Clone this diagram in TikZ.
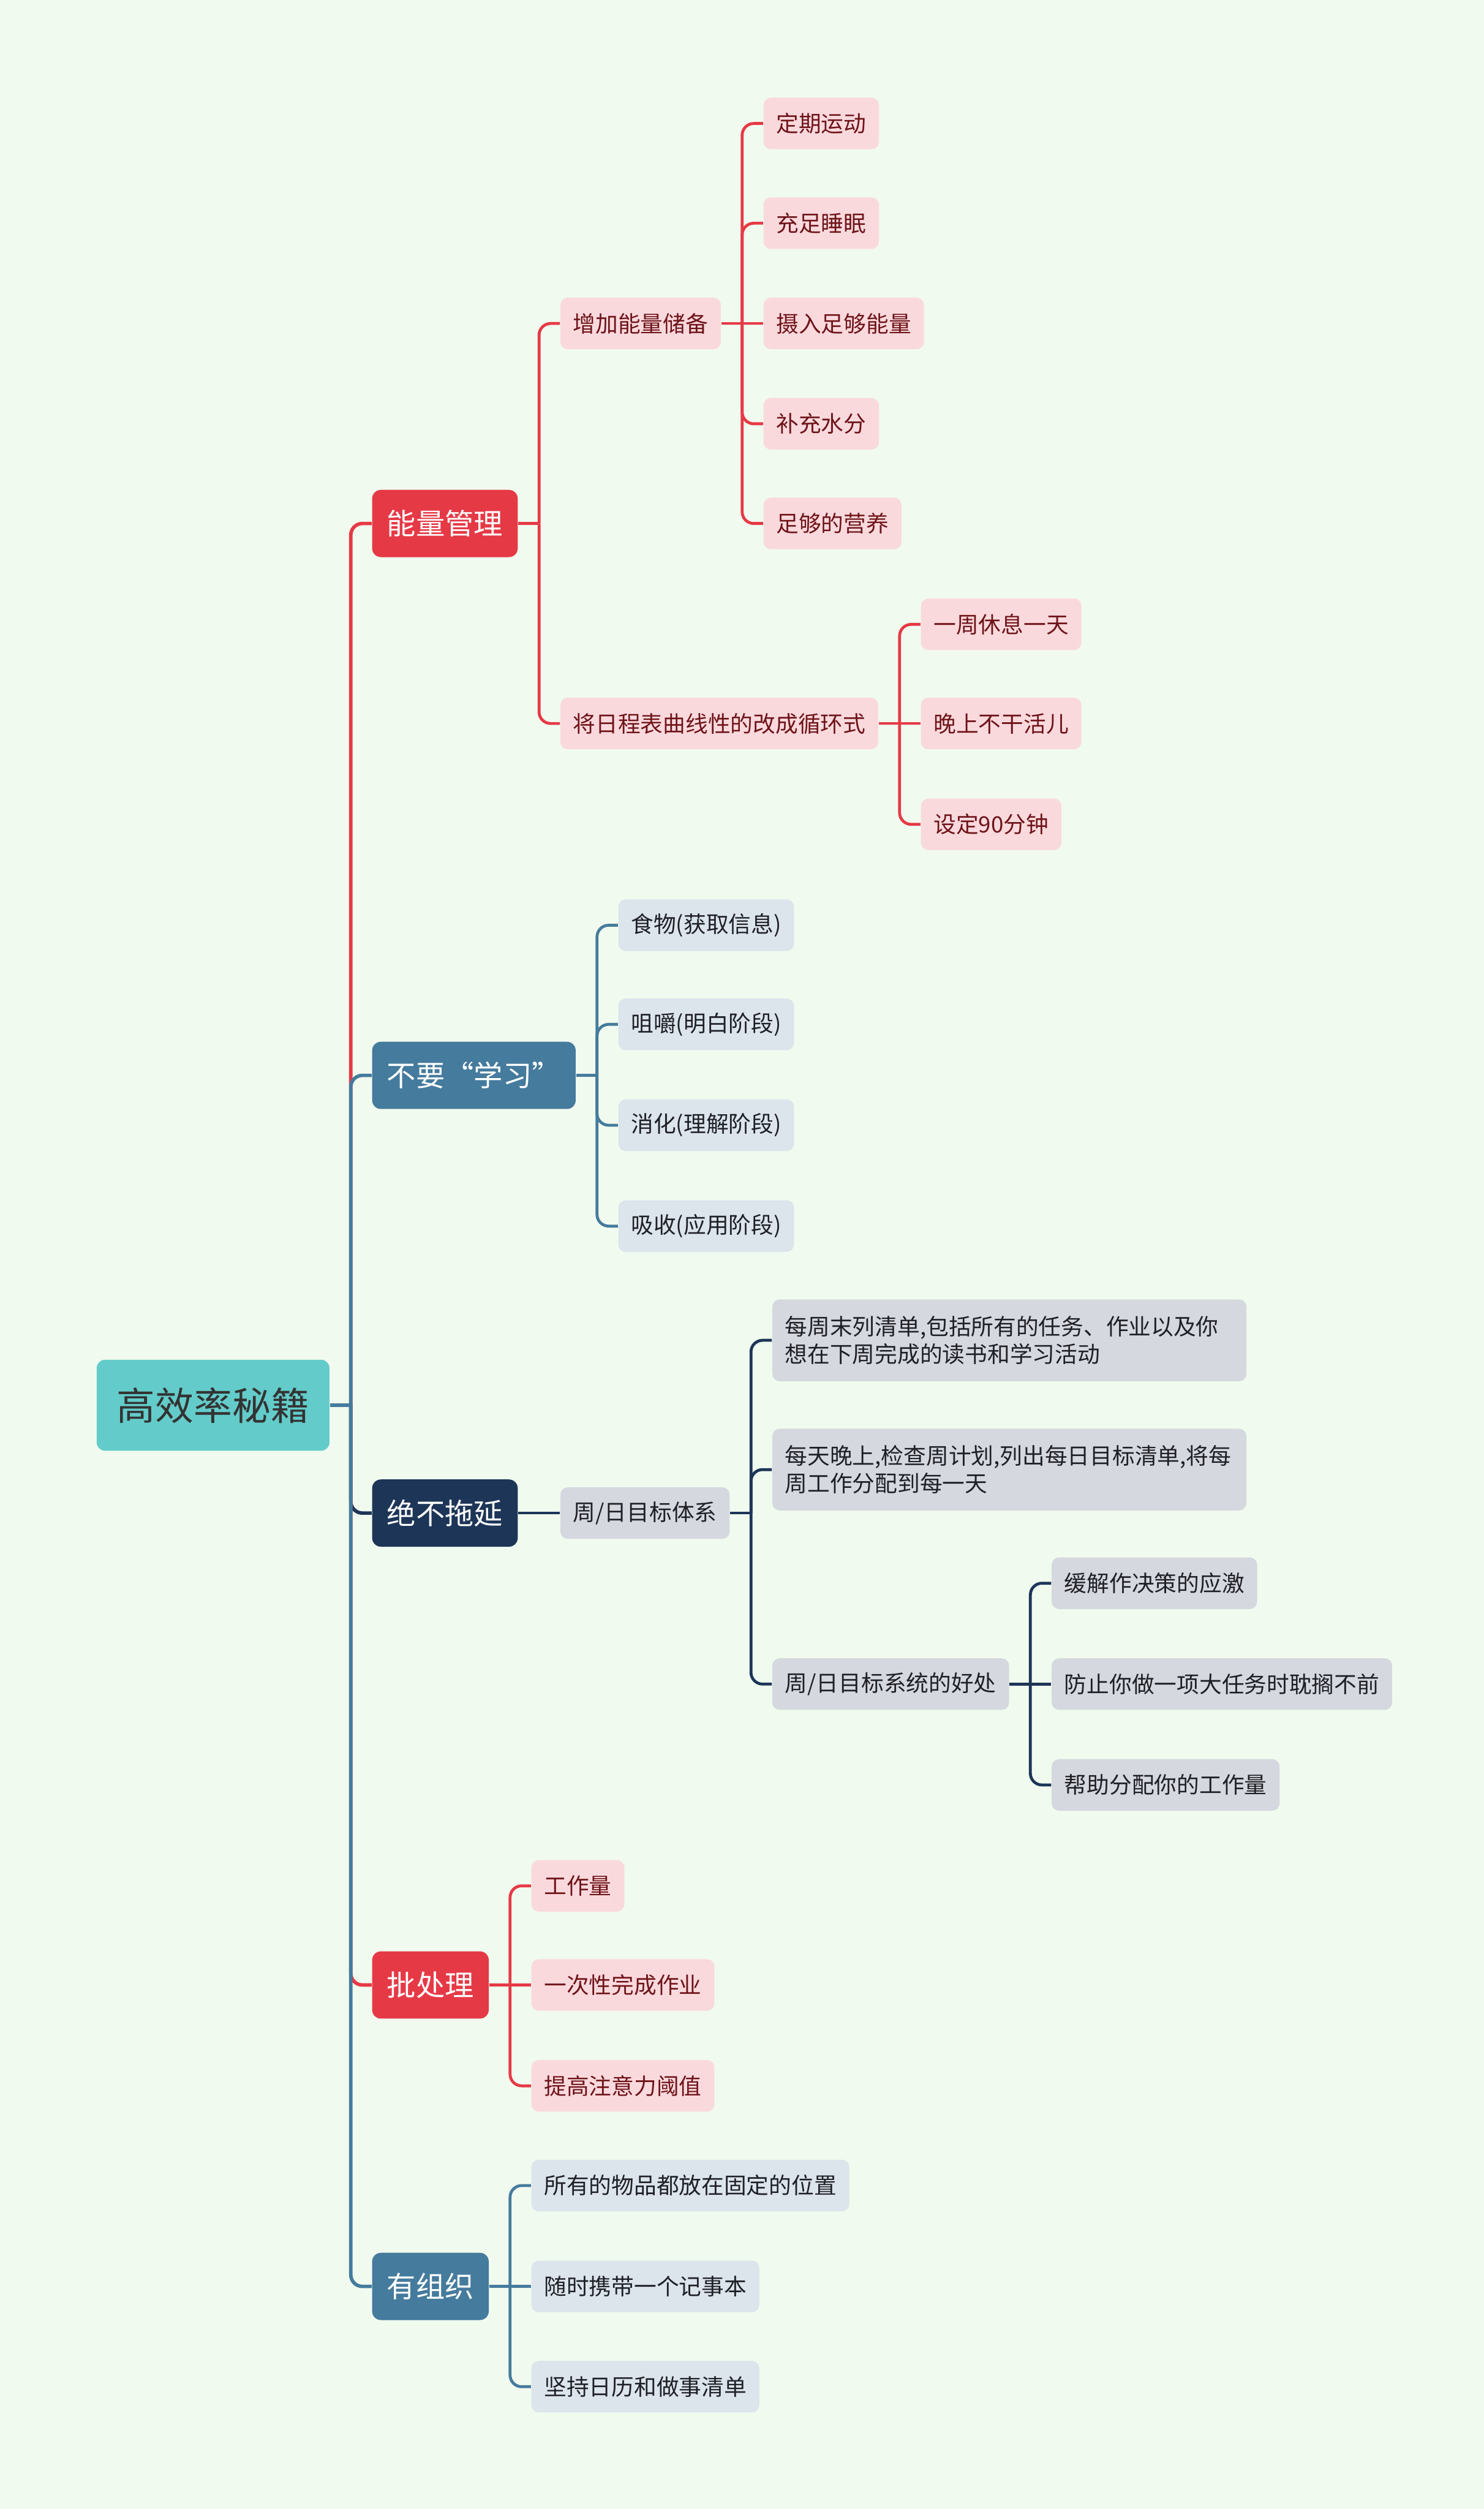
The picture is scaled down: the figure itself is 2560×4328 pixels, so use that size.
\documentclass[tikz,border=0pt]{standalone}
\usepackage{fontspec}
\setmainfont{Noto Sans CJK SC}
\usepackage{tikz}
\usetikzlibrary{positioning}
\definecolor{bgMint}{RGB}{240,250,238}
\definecolor{redA}{RGB}{230,57,70}
\definecolor{steelB}{RGB}{69,123,157}
\definecolor{navyC}{RGB}{29,53,87}
\definecolor{tealR}{RGB}{99,204,202}
\definecolor{pinkL}{RGB}{250,217,221}
\definecolor{blueL}{RGB}{220,228,236}
\definecolor{greyL}{RGB}{213,216,222}
\definecolor{maroonT}{RGB}{110,20,25}
\definecolor{inkT}{RGB}{30,32,38}

\tikzset{
  leaf/.style={rounded corners=3.2pt, inner xsep=5.5pt, inner ysep=0pt,
    minimum height=22.25pt, font=\fontsize{9.7}{12}\selectfont},
  pinkleaf/.style={leaf, fill=pinkL, text=maroonT},
  blueleaf/.style={leaf, fill=blueL, text=inkT},
  greyleaf/.style={leaf, fill=greyL, text=inkT},
  twoline/.style={text width=193.5pt, align=left, minimum height=35.25pt},
  mainbox/.style={rounded corners=3.8pt, inner xsep=6.4pt, inner ysep=0pt,
    minimum height=29pt, text=white, font=\fontsize{12.5}{15}\selectfont},
  rootbox/.style={rounded corners=3.6pt, inner xsep=8.7pt, inner ysep=0pt,
    minimum height=39.25pt, fill=tealR, text=black!80,
    font=\fontsize{16.6}{20}\selectfont},
  sub/.style={anchor=west, xshift=18pt},
  redline/.style={redA, line width=1.25pt, rounded corners=5pt},
  steelline/.style={steelB, line width=1.25pt, rounded corners=5pt},
  navyline/.style={navyC, line width=1.25pt, rounded corners=5pt},
}

\begin{document}
\begin{tikzpicture}[x=0.25pt, y=-0.25pt]
  \fill[bgMint] (0,0) rectangle (2560,4328);

  % root and main topics
  \node[rootbox, anchor=west] (r) at (166,2424) {高效率秘籍};
  \node[mainbox, fill=redA, sub] (e) at (r.east |- 0,903) {能量管理};
  \node[mainbox, fill=steelB, sub] (l) at (r.east |- 0,1855) {不要{\addfontfeature{RawFeature=+fwid}“学习”}};
  \node[mainbox, fill=navyC, sub] (p) at (r.east |- 0,2610) {绝不拖延};
  \node[mainbox, fill=redA, sub] (b) at (r.east |- 0,3424) {批处理};
  \node[mainbox, fill=steelB, sub] (o) at (r.east |- 0,3944) {有组织};

  % energy
  \node[pinkleaf, sub] (e1) at (e.east |- 0,558) {增加能量储备};
  \node[pinkleaf, sub] (e2) at (e.east |- 0,1248) {将日程表曲线性的改成循环式};
  \node[pinkleaf, sub] (e11) at (e1.east |- 0,213) {定期运动};
  \node[pinkleaf, sub] (e12) at (e1.east |- 0,385) {充足睡眠};
  \node[pinkleaf, sub] (e13) at (e1.east |- 0,558) {摄入足够能量};
  \node[pinkleaf, sub] (e14) at (e1.east |- 0,731) {补充水分};
  \node[pinkleaf, sub] (e15) at (e1.east |- 0,903) {足够的营养};
  \node[pinkleaf, sub] (e21) at (e2.east |- 0,1077) {一周休息一天};
  \node[pinkleaf, sub] (e22) at (e2.east |- 0,1248) {晚上不干活儿};
  \node[pinkleaf, sub] (e23) at (e2.east |- 0,1422) {设定90分钟};

  % learning
  \node[blueleaf, sub] (l1) at (l.east |- 0,1596) {食物(获取信息)};
  \node[blueleaf, sub] (l2) at (l.east |- 0,1767) {咀嚼(明白阶段)};
  \node[blueleaf, sub] (l3) at (l.east |- 0,1941) {消化(理解阶段)};
  \node[blueleaf, sub] (l4) at (l.east |- 0,2115) {吸收(应用阶段)};

  % no delay
  \node[greyleaf, sub] (p1) at (p.east |- 0,2610) {周/日目标体系};
  \node[greyleaf, twoline, sub] (p11) at (p1.east |- 0,2312)
    {每周末列清单,包括所有的任务、作业以及你\\想在下周完成的读书和学习活动};
  \node[greyleaf, twoline, sub] (p12) at (p1.east |- 0,2535)
    {每天晚上,检查周计划,列出每日目标清单,将每\\周工作分配到每一天};
  \node[greyleaf, sub] (p13) at (p1.east |- 0,2905) {周/日目标系统的好处};
  \node[greyleaf, sub] (p131) at (p13.east |- 0,2731) {缓解作决策的应激};
  \node[greyleaf, sub] (p132) at (p13.east |- 0,2905) {防止你做一项大任务时耽搁不前};
  \node[greyleaf, sub] (p133) at (p13.east |- 0,3079) {帮助分配你的工作量};

  % batching
  \node[pinkleaf, sub] (b1) at (b.east |- 0,3253) {工作量};
  \node[pinkleaf, sub] (b2) at (b.east |- 0,3424) {一次性完成作业};
  \node[pinkleaf, sub] (b3) at (b.east |- 0,3598) {提高注意力阈值};

  % organised
  \node[blueleaf, sub] (o1) at (o.east |- 0,3770) {所有的物品都放在固定的位置};
  \node[blueleaf, sub] (o2) at (o.east |- 0,3944) {随时携带一个记事本};
  \node[blueleaf, sub] (o3) at (o.east |- 0,4117) {坚持日历和做事清单};

  % branch points
  \coordinate (rt) at ([xshift=9pt]r.east);
  \coordinate (et) at ([xshift=9pt]e.east);
  \coordinate (e1t) at ([xshift=9pt]e1.east);
  \coordinate (e2t) at ([xshift=9pt]e2.east);
  \coordinate (lt) at ([xshift=9pt]l.east);
  \coordinate (pt) at ([xshift=9pt]p.east);
  \coordinate (p1t) at ([xshift=9pt]p1.east);
  \coordinate (p13t) at ([xshift=9pt]p13.east);
  \coordinate (bt) at ([xshift=9pt]b.east);
  \coordinate (ot) at ([xshift=9pt]o.east);

  % main branches
  \draw[redline, line width=1.5pt] (rt) |- (e.west);
  \draw[steelline, line width=1.5pt] (rt) |- (l.west);
  \draw[navyline, line width=1.5pt] (rt) |- (p.west);
  \draw[redline, line width=1.5pt] (rt) |- (b.west);
  \draw[steelline, line width=1.5pt] (rt) |- (o.west);
  \draw[steelline, line width=1.5pt] (r.east) -- (rt);

  % energy lines
  \draw[redline] (e.east) -- (et);
  \draw[redline] (et) |- (e1.west);
  \draw[redline] (et) |- (e2.west);
  \draw[redline] (e1.east) -- (e1t);
  \draw[redline] (e1t) |- (e11.west);
  \draw[redline] (e1t) |- (e12.west);
  \draw[redline] (e1t) -- (e13.west);
  \draw[redline] (e1t) |- (e14.west);
  \draw[redline] (e1t) |- (e15.west);
  \draw[redline] (e2.east) -- (e2t);
  \draw[redline] (e2t) |- (e21.west);
  \draw[redline] (e2t) -- (e22.west);
  \draw[redline] (e2t) |- (e23.west);

  % learning lines
  \draw[steelline] (l.east) -- (lt);
  \draw[steelline] (lt) |- (l1.west);
  \draw[steelline] (lt) |- (l2.west);
  \draw[steelline] (lt) |- (l3.west);
  \draw[steelline] (lt) |- (l4.west);

  % no delay lines
  \draw[navyline] (p.east) -- (p1.west);
  \draw[navyline] (p1.east) -- (p1t);
  \draw[navyline] (p1t) |- (p11.west);
  \draw[navyline] (p1t) |- (p12.west);
  \draw[navyline] (p1t) |- (p13.west);
  \draw[navyline] (p13.east) -- (p13t);
  \draw[navyline] (p13t) |- (p131.west);
  \draw[navyline] (p13t) -- (p132.west);
  \draw[navyline] (p13t) |- (p133.west);

  % batching lines
  \draw[redline] (b.east) -- (bt);
  \draw[redline] (bt) |- (b1.west);
  \draw[redline] (bt) -- (b2.west);
  \draw[redline] (bt) |- (b3.west);

  % organised lines
  \draw[steelline] (o.east) -- (ot);
  \draw[steelline] (ot) |- (o1.west);
  \draw[steelline] (ot) -- (o2.west);
  \draw[steelline] (ot) |- (o3.west);
\end{tikzpicture}
\end{document}
